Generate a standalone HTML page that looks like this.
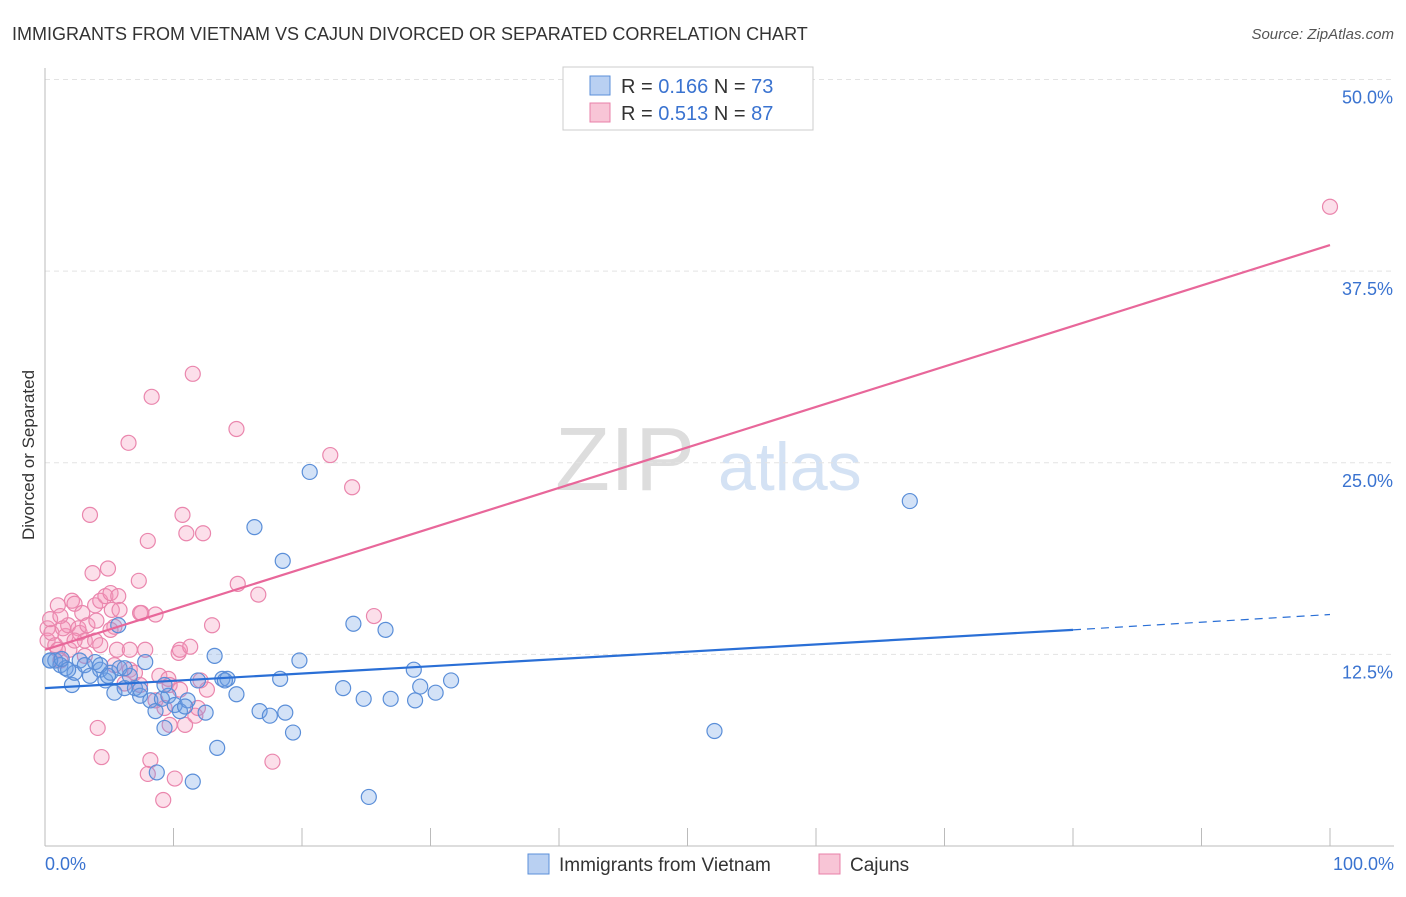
<!DOCTYPE html>
<html><head><meta charset="utf-8"><style>
body{margin:0;background:#fff;font-family:"Liberation Sans",sans-serif;}
svg text{font-family:"Liberation Sans",sans-serif;}
</style></head><body>
<svg id="c" width="1406" height="892" xmlns="http://www.w3.org/2000/svg">
<text x="12" y="40" font-size="18" fill="#333">IMMIGRANTS FROM VIETNAM VS CAJUN DIVORCED OR SEPARATED CORRELATION CHART</text>
<text x="1394" y="39" font-size="15" fill="#555" font-style="italic" text-anchor="end">Source: ZipAtlas.com</text>
<text x="34" y="455" font-size="17" fill="#333" text-anchor="middle" transform="rotate(-90 34 455)">Divorced or Separated</text>
<g><text x="555" y="490" font-size="90" fill="#ddd" font-family="Liberation Serif,serif">ZIP</text><text x="718" y="490" font-size="68" fill="#d4e2f4">atlas</text></g>
<g id="grid"></g><g id="pts"></g><g id="lines"></g>
<g>
<rect x="563" y="67" width="250" height="63" fill="#fff" stroke="#ccc"/>
<rect x="590" y="76" width="20" height="19" fill="#b9d0f2" stroke="#5b8fd9"/>
<text x="621" y="93" font-size="20" fill="#333">R = <tspan fill="#3a73d0">0.166</tspan>   N = <tspan fill="#3a73d0">73</tspan></text>
<rect x="590" y="103" width="20" height="19" fill="#f8c5d6" stroke="#e880a8"/>
<text x="621" y="120" font-size="20" fill="#333">R = <tspan fill="#3a73d0">0.513</tspan>   N = <tspan fill="#3a73d0">87</tspan></text>
</g>
<g>
<rect x="528" y="854" width="21" height="20" fill="#b9d0f2" stroke="#5b8fd9"/><text x="559" y="871" font-size="19" fill="#333">Immigrants from Vietnam</text>
<rect x="819" y="854" width="21" height="20" fill="#f8c5d6" stroke="#e880a8"/><text x="850" y="871" font-size="19" fill="#333">Cajuns</text>
</g>
</svg>
<script>
const yTicks=[12.5,25,37.5,50];
const yTickLabels=["12.5%","25.0%","37.5%","50.0%"];
const xTickLabels=["0.0%","100.0%"];
const blueX=[0.4,0.8,1.2,1.6,2.1,2.3,2.7,3.1,3.5,3.9,4.3,4.7,5.1,5.4,5.7,5.8,6.2,6.6,7.0,7.4,7.8,8.2,8.6,8.7,9.1,9.3,9.6,10.1,10.5,11.1,11.5,11.9,12.5,13.2,13.4,13.8,14.2,14.9,16.3,16.7,17.5,18.3,18.7,18.5,19.3,19.8,20.6,23.2,24.0,24.8,25.2,26.5,26.9,28.7,28.8,29.2,30.4,31.6,52.1,67.3,0.4,1.3,1.8,4.3,4.9,6.2,7.4,9.3,10.9,14.0];
const blueY=[12.1,12.1,11.8,11.6,10.5,11.3,12.1,11.8,11.1,12.0,11.5,10.8,11.3,10.0,14.4,11.6,10.3,11.1,10.3,9.8,12.0,9.5,8.8,4.8,9.6,7.7,9.8,9.2,8.8,9.5,4.2,10.8,8.7,12.4,6.4,10.9,10.9,9.9,20.8,8.8,8.5,10.9,8.7,18.6,7.4,12.1,24.4,10.3,14.5,9.6,3.2,14.1,9.6,11.5,9.5,10.4,10.0,10.8,7.5,22.5,12.1,12.2,11.5,11.8,11.1,11.6,10.2,10.5,9.1,10.8];
const pinkX=[0.2,0.2,0.5,0.8,1.0,1.2,1.6,1.8,2.1,2.3,2.6,2.7,2.9,3.1,3.3,3.5,3.7,3.9,4.0,4.1,4.3,4.4,4.7,4.9,5.1,5.2,5.4,5.6,5.7,5.8,6.2,6.5,6.6,7.0,7.3,7.4,7.5,8.0,8.2,8.3,8.6,8.0,8.9,9.2,9.3,9.6,9.7,10.1,10.4,10.5,10.7,10.9,11.0,11.3,11.5,11.7,11.9,12.3,12.6,13.0,14.9,15.0,16.6,17.7,22.2,23.9,25.6,100,0.4,1.9,3.9,5.4,9.7,12.1,6.6,1.2,2.3,5.1,7.8,8.6,10.5,3.1,7.4,1.0,1.4,4.3];
const pinkY=[14.2,13.4,13.9,13.1,15.7,12.1,13.7,14.4,16.0,15.8,14.2,13.9,15.2,13.4,14.4,21.6,17.8,15.7,14.7,7.7,16.0,5.8,16.3,18.1,16.5,15.4,14.3,12.8,16.3,15.4,10.6,26.3,11.5,11.3,17.3,15.2,15.2,19.9,5.6,29.3,15.1,4.7,11.1,3.0,9.0,10.9,7.9,4.4,12.6,12.8,21.6,7.9,20.4,13.0,30.8,8.5,9.0,20.4,10.2,14.4,27.2,17.1,16.4,5.5,25.5,23.4,15.0,41.7,14.8,12.8,13.4,11.8,10.5,10.8,12.8,15.0,13.4,14.1,12.8,9.5,10.2,12.4,10.5,12.8,14.2,13.1];
const blueLine=[[0,10.3],[80,14.1],[100,15.1]];
const pinkLine=[[0,12.8],[100,39.2]];
const NS="http://www.w3.org/2000/svg";
const X=v=>45+v*12.85, Y=v=>846-v*15.33;
function mk(t,a,p){const e=document.createElementNS(NS,t);for(const k in a)e.setAttribute(k,a[k]);p.appendChild(e);return e;}
const grid=document.getElementById('grid');
yTicks.forEach((t,i)=>{
 const l=mk('line',{x1:45,x2:1394,y1:Y(t),y2:Y(t),stroke:'#e3e3e3','stroke-dasharray':'5,4'},grid);
 
 
 const tx=mk('text',{x:1393,y:Y(t)+24,'font-size':18,fill:'#3a73d0','text-anchor':'end'},grid);tx.textContent=yTickLabels[i];
 
 
});
const ax=mk('line',{x1:45,x2:1394,y1:846,y2:846,stroke:'#bbb'},grid);


const ay=mk('line',{x1:45,x2:45,y1:68,y2:846,stroke:'#bbb'},grid);


for(let i=0;i<=10;i++){const t=mk('line',{x1:X(i*10),x2:X(i*10),y1:828,y2:846,stroke:'#bbb'},grid);
 
 }
[[0,'start',45],[1,'end',1394]].forEach(([i,a,x])=>{const t=mk('text',{x:x,y:870,'font-size':18,fill:'#3a73d0','text-anchor':a},grid);t.textContent=xTickLabels[i];
 
 });
const pts=document.getElementById('pts');
pinkX.forEach((x,i)=>{const c=mk('circle',{cx:X(x),cy:Y(pinkY[i]),r:7.5,fill:'rgba(244,150,185,0.3)',stroke:'#ea86ad','stroke-width':1.2},pts);
 
 });
blueX.forEach((x,i)=>{const c=mk('circle',{cx:X(x),cy:Y(blueY[i]),r:7.5,fill:'rgba(110,160,230,0.3)',stroke:'#5a8ed8','stroke-width':1.2},pts);
 
 });
const lines=document.getElementById('lines');
const bl=mk('line',{x1:X(blueLine[0][0]),y1:Y(blueLine[0][1]),x2:X(blueLine[1][0]),y2:Y(blueLine[1][1]),stroke:'#2a6fd6','stroke-width':2.2},lines);


const bd=mk('line',{x1:X(blueLine[1][0]),y1:Y(blueLine[1][1]),x2:X(blueLine[2][0]),y2:Y(blueLine[2][1]),stroke:'#2a6fd6','stroke-width':1.2,'stroke-dasharray':'8,6'},lines);


const pl=mk('line',{x1:X(pinkLine[0][0]),y1:Y(pinkLine[0][1]),x2:X(pinkLine[1][0]),y2:Y(pinkLine[1][1]),stroke:'#e8679a','stroke-width':2.2},lines);


</script>
</body></html>
